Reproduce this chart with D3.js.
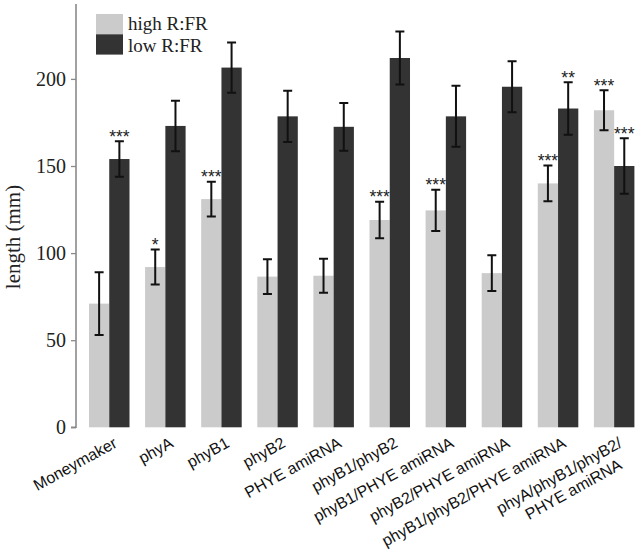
<!DOCTYPE html>
<html>
<head>
<meta charset="utf-8">
<script src="https://cdn.jsdelivr.net/npm/d3@7"></script>
<style>
  html, body { margin: 0; padding: 0; background: #fff; }
  svg { display: block; }
</style>
</head>
<body>
<svg id="chart" width="638" height="551"></svg>
<script>
// ---- data ----
const categories = [
  "Moneymaker", "phyA", "phyB1", "phyB2", "PHYE amiRNA",
  "phyB1/phyB2", "phyB1/PHYE amiRNA", "phyB2/PHYE amiRNA",
  "phyB1/phyB2/PHYE amiRNA", "phyA/phyB1/phyB2/\nPHYE amiRNA"
];
const seriesNames = ["high R:FR", "low R:FR"];
const highValues = [71, 92, 131, 86.5, 87, 119, 124.5, 88.5, 140, 182];
const highErrors = [18, 10, 10, 10, 9.7, 10.5, 11.8, 10.3, 10.3, 11.5];
const lowValues  = [154, 173, 206.5, 178.5, 172.5, 212, 178.5, 195.5, 183, 150];
const lowErrors  = [10.2, 14.5, 14.4, 14.7, 13.7, 15.2, 17.5, 14.7, 15.1, 15.9];
const highSig = ["", "*", "***", "", "", "***", "***", "", "***", "***"];
const lowSig  = ["***", "", "", "", "", "", "", "", "**", "***"];
const yTicks = [0, 50, 100, 150, 200];
const yLabel = "length (mm)";

// ---- layout ----
const svg = d3.select("#chart");
const colors = ["#cbcbcb", "#333333"];
const serif = "'Liberation Serif', 'Times New Roman', serif";
const sans = "'Liberation Sans', Arial, sans-serif";

const y = d3.scaleLinear().domain([0, 243]).range([427.3, 4]);
const x = d3.scaleBand().domain(categories).range([81.2, 642.2])
  .paddingInner(0.278).paddingOuter(0.139);
const xs = d3.scaleBand().domain(seriesNames).range([0, x.bandwidth()]).padding(0);

// y axis
const yAxis = d3.axisLeft(y).tickValues(yTicks).tickSize(5).tickPadding(5);
const ya = svg.append("g").attr("transform", "translate(76,0)").call(yAxis);
ya.select(".domain").attr("stroke", "#8a8a8a").attr("stroke-width", 1.6)
  .attr("d", `M-5,${y(0)}H0V${y.range()[1]}`);
ya.selectAll(".tick line").attr("stroke", "#8a8a8a").attr("stroke-width", 1.3);
ya.selectAll(".tick text").attr("font-family", serif).attr("font-size", 20)
  .attr("fill", "#222");

svg.append("text")
  .attr("transform", `translate(19.5,237) rotate(-90)`)
  .attr("text-anchor", "middle")
  .attr("font-family", serif).attr("font-size", 21).attr("fill", "#222")
  .text(yLabel);

// bars
const rows = categories.map((c, i) => ({
  c,
  vals: [
    { s: seriesNames[0], v: highValues[i], e: highErrors[i], sig: highSig[i] },
    { s: seriesNames[1], v: lowValues[i], e: lowErrors[i], sig: lowSig[i] }
  ]
}));

const groups = svg.append("g").selectAll("g").data(rows).join("g")
  .attr("transform", d => `translate(${x(d.c)},0)`);

groups.selectAll("rect").data(d => d.vals).join("rect")
  .attr("x", d => xs(d.s))
  .attr("width", xs.bandwidth())
  .attr("y", d => y(d.v))
  .attr("height", d => y(0) - y(d.v))
  .attr("fill", (d, i) => colors[i]);

// error bars
const cap = 4.5;
const eb = groups.selectAll("g.err").data(d => d.vals).join("g").attr("class", "err")
  .attr("transform", d => `translate(${xs(d.s) + xs.bandwidth() / 2},0)`);
eb.append("path")
  .attr("d", d => `M0,${y(d.v + d.e)}V${y(d.v - d.e)}M${-cap},${y(d.v + d.e)}H${cap}M${-cap},${y(d.v - d.e)}H${cap}`)
  .attr("stroke", "#111").attr("stroke-width", 2).attr("fill", "none");
eb.filter(d => d.sig).append("text")
  .attr("y", d => y(d.v + d.e) + 1.5)
  .attr("text-anchor", "middle")
  .attr("font-family", sans).attr("font-size", 17.5).attr("fill", "#222")
  .text(d => d.sig);

// legend
const lg = svg.append("g");
seriesNames.forEach((s, i) => {
  lg.append("rect").attr("x", 96).attr("y", 14 + i * 20.3).attr("width", 27).attr("height", 20.3)
    .attr("fill", colors[i]);
  lg.append("text").attr("x", 128).attr("y", 30 + i * 21.8)
    .attr("font-family", serif).attr("font-size", 19).attr("fill", "#222").text(s);
});

// x labels
const lab = svg.append("g");
categories.forEach(c => {
  const lines = c.split("\n");
  const g = lab.append("g")
    .attr("transform", `translate(${x(c) + x.bandwidth() / 2 + 9},${y(0) + 19}) rotate(-29)`);
  const t1 = g.append("text").attr("text-anchor", "end")
    .attr("font-family", sans).attr("font-size", 16).attr("fill", "#111").text(lines[0]);
  if (lines.length > 1) {
    const w = t1.node().getComputedTextLength();
    g.append("text").attr("text-anchor", "middle").attr("x", -w / 2 + 6).attr("y", 19)
      .attr("font-family", sans).attr("font-size", 16).attr("fill", "#111").text(lines[1]);
  }
});
</script>
</body>
</html>
